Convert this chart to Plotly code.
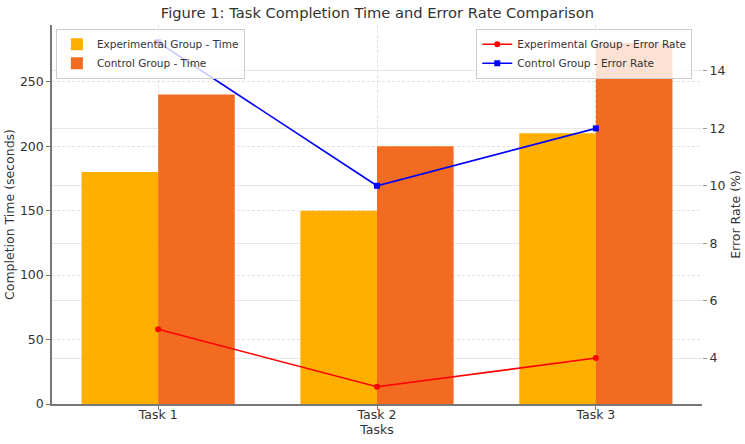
import plotly.graph_objects as go

tasks = ["Task 1", "Task 2", "Task 3"]
exp_time = [180, 150, 210]
ctrl_time = [240, 200, 280]
exp_err = [5, 3, 4]
ctrl_err = [15, 10, 12]

x = list(range(len(tasks)))
w = 0.35
FONT = "DejaVu Sans"
TXT = "#333333"

fig = go.Figure()
fig.add_bar(x=[i - w / 2 for i in x], y=exp_time, width=w, name="Experimental Group - Time",
            marker=dict(color="#FFAF00", line=dict(width=0)), legend="legend")
fig.add_bar(x=[i + w / 2 for i in x], y=ctrl_time, width=w, name="Control Group - Time",
            marker=dict(color="#F36B21", line=dict(width=0)), legend="legend")
fig.add_scatter(x=x, y=exp_err, yaxis="y2", mode="lines+markers", name="Experimental Group - Error Rate",
                line=dict(color="red", width=1.6), marker=dict(symbol="circle", size=6, color="red"),
                legend="legend2")
fig.add_scatter(x=x, y=ctrl_err, yaxis="y2", mode="lines+markers", name="Control Group - Error Rate",
                line=dict(color="blue", width=1.6), marker=dict(symbol="square", size=6, color="blue"),
                legend="legend2")

fig.update_layout(
    width=745, height=444,
    margin=dict(l=52, r=43, t=25, b=40),
    paper_bgcolor="white", plot_bgcolor="white",
    font=dict(family=FONT, color=TXT, size=12),
    barmode="overlay",
    title=dict(text="Figure 1: Task Completion Time and Error Rate Comparison", x=0.5066, xanchor="center",
               y=0.972, yanchor="middle", font=dict(size=14.7, color=TXT)),
    xaxis=dict(range=[-0.485, 2.485], tickmode="array", tickvals=x, ticktext=tasks, automargin=False,
               showline=True, linecolor="#777777", linewidth=1.5, ticks="outside", ticklen=4,
               tickcolor="#777777", showgrid=True, gridcolor="#e2e2e2", griddash="3px,2px", gridwidth=0.8,
               zeroline=False, title=dict(text="Tasks", font=dict(size=12.5), standoff=2),
               tickfont=dict(size=12.5), ticklabelstandoff=-6),
    yaxis=dict(range=[0, 294], tickvals=[0, 50, 100, 150, 200, 250], showline=True, automargin=False,
               linecolor="#777777", linewidth=1.5, ticks="outside", ticklen=4, tickcolor="#777777",
               showgrid=True, gridcolor="#e2e2e2", griddash="3px,2px", gridwidth=0.8, zeroline=False,
               title=dict(text="Completion Time (seconds)", font=dict(size=12.5), standoff=3),
               tickfont=dict(size=12.5)),
    yaxis2=dict(range=[2.4, 15.6], tickvals=[4, 6, 8, 10, 12, 14], overlaying="y", side="right",
                automargin=False,
                showline=False, ticks="outside", ticklen=4, tickcolor="#999999",
                showgrid=True, gridcolor="rgba(215,215,215,0.6)", gridwidth=0.8, zeroline=False,
                title=dict(text="Error Rate (%)", font=dict(size=12.5), standoff=6),
                tickfont=dict(size=12.5)),
    legend=dict(x=0.006, y=0.99, xanchor="left", yanchor="top", bgcolor="rgba(255,255,255,0.8)",
                bordercolor="#cccccc", borderwidth=1, font=dict(size=10.5, color=TXT),
                tracegroupgap=0, itemwidth=30),
    legend2=dict(x=0.985, y=0.99, xanchor="right", yanchor="top", bgcolor="rgba(255,255,255,0.8)",
                 bordercolor="#cccccc", borderwidth=1, font=dict(size=10.5, color=TXT),
                 tracegroupgap=0, itemwidth=30),
)

fig.write_html("out.html", config={"displayModeBar": False},
               post_script="document.body.style.margin='0px';")
